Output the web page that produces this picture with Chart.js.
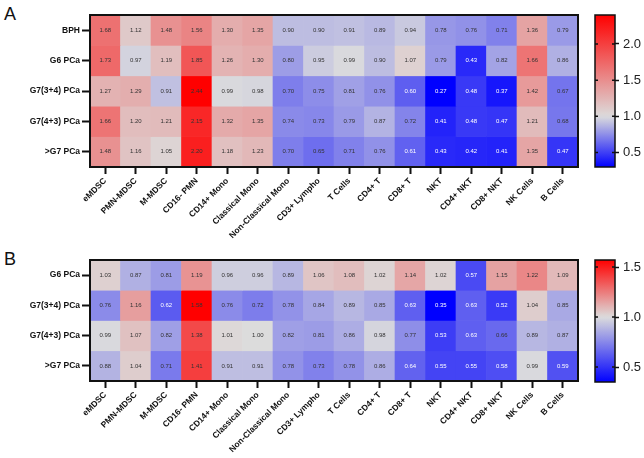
<!DOCTYPE html>
<html>
<head>
<meta charset="utf-8">
<script src="https://cdn.jsdelivr.net/npm/chart.js@4.4.1/dist/chart.umd.min.js"></script>
<style>
  html, body { margin: 0; padding: 0; background: #fff; }
  body { width: 644px; height: 458px; position: relative; overflow: hidden; font-family: "Liberation Sans", Arial, sans-serif; }
  canvas { position: absolute; }
  .letra { position: absolute; left: 4px; font-size: 18px; line-height: 18px; color: #111; }
</style>
</head>
<body>
<div class="letra" style="top:5px">A</div>
<div class="letra" style="top:250px">B</div>
<canvas id="heatA" width="580" height="245" style="left:0;top:0"></canvas>
<canvas id="barraA" width="64" height="180" style="left:580px;top:0"></canvas>
<canvas id="heatB" width="580" height="213" style="left:0;top:245px"></canvas>
<canvas id="barraB" width="64" height="150" style="left:580px;top:245px"></canvas>
<script>
// columnas (tipos celulares) compartidas por los dos paneles
const celulas = ['eMDSC', 'PMN-MDSC', 'M-MDSC', 'CD16- PMN', 'CD14+ Mono', 'Classical Mono',
  'Non-Classical Mono', 'CD3+ Lympho', 'T Cells', 'CD4+ T', 'CD8+ T', 'NKT', 'CD4+ NKT',
  'CD8+ NKT', 'NK Cells', 'B Cells'];

// Panel A
const gruposA = ['BPH', 'G6 PCa', 'G7(3+4) PCa', 'G7(4+3) PCa', '>G7 PCa'];
const bphA   = [1.68, 1.12, 1.48, 1.56, 1.30, 1.35, 0.90, 0.90, 0.91, 0.89, 0.94, 0.78, 0.76, 0.71, 1.36, 0.79];
const g6A    = [1.73, 0.97, 1.19, 1.85, 1.26, 1.30, 0.80, 0.95, 0.99, 0.90, 1.07, 0.79, 0.43, 0.82, 1.66, 0.86];
const g734A  = [1.27, 1.29, 0.91, 2.44, 0.99, 0.98, 0.70, 0.75, 0.81, 0.76, 0.60, 0.27, 0.48, 0.37, 1.42, 0.67];
const g743A  = [1.66, 1.20, 1.21, 2.15, 1.32, 1.35, 0.74, 0.73, 0.79, 0.87, 0.72, 0.41, 0.48, 0.47, 1.21, 0.68];
const mayorA = [1.48, 1.16, 1.05, 2.20, 1.18, 1.23, 0.70, 0.65, 0.71, 0.76, 0.61, 0.43, 0.42, 0.41, 1.35, 0.47];
const escalaA = [0.3, 2.4];
const ticksA = [0.5, 1.0, 1.5, 2.0];

// Panel B
const gruposB = ['G6 PCa', 'G7(3+4) PCa', 'G7(4+3) PCa', '>G7 PCa'];
const g6B    = [1.03, 0.87, 0.81, 1.19, 0.96, 0.96, 0.89, 1.06, 1.08, 1.02, 1.14, 1.02, 0.57, 1.15, 1.22, 1.09];
const g734B  = [0.76, 1.16, 0.62, 1.58, 0.76, 0.72, 0.78, 0.84, 0.89, 0.85, 0.63, 0.35, 0.63, 0.52, 1.04, 0.85];
const g743B  = [0.99, 1.07, 0.82, 1.38, 1.01, 1.00, 0.82, 0.81, 0.86, 0.98, 0.77, 0.53, 0.63, 0.66, 0.89, 0.87];
const mayorB = [0.88, 1.04, 0.71, 1.41, 0.91, 0.91, 0.78, 0.73, 0.78, 0.86, 0.64, 0.55, 0.55, 0.58, 0.99, 0.59];
const escalaB = [0.35, 1.57];
const ticksB = [0.5, 1.0, 1.5];

const AZUL = [0, 0, 255], GRIS = [220, 220, 220], ROJO = [255, 0, 0];
const FUENTE = '"Liberation Sans", Arial, sans-serif';

function mezclar(a, b, t) {
  t = Math.max(0, Math.min(1, t));
  return a.map((c, i) => Math.round(c + (b[i] - c) * t));
}
function colorDe(v, [lo, hi]) {
  const c = v <= 1 ? mezclar(AZUL, GRIS, (v - lo) / (1 - lo)) : mezclar(GRIS, ROJO, (v - 1) / (hi - 1));
  return `rgb(${c[0]},${c[1]},${c[2]})`;
}
function textoDe(v, [lo]) {
  return (v < 1 && (v - lo) / (1 - lo) < 0.45) ? '#ffffff' : '#333333';
}

function dibujarMarco(chart) {
  const a = chart.chartArea;
  const ctx = chart.ctx;
  ctx.save();
  ctx.strokeStyle = '#111';
  ctx.lineWidth = chart.options.plugins.marco.grosor;
  ctx.strokeRect(a.left, a.top, a.right - a.left, a.bottom - a.top);
  ctx.restore();
}

const valores = {
  id: 'valores',
  afterDatasetsDraw(chart) {
    const ctx = chart.ctx;
    const escala = chart.options.plugins.valores.escala;
    ctx.save();
    ctx.font = '6px ' + FUENTE;
    ctx.textAlign = 'center';
    ctx.textBaseline = 'middle';
    chart.data.datasets.forEach((ds, i) => {
      chart.getDatasetMeta(i).data.forEach((bar, j) => {
        const v = ds.valores[j];
        ctx.fillStyle = textoDe(v, escala);
        ctx.fillText(v.toFixed(2), bar.x, (bar.y + bar.base) / 2);
      });
    });
    ctx.restore();
  }
};
const marco = { id: 'marco', afterDraw: dibujarMarco };

// marcas cortas hacia adentro de la barra de color, en cada tick
const marcasInternas = {
  id: 'marcasInternas',
  afterDraw(chart) {
    const a = chart.chartArea;
    const ctx = chart.ctx;
    ctx.save();
    ctx.strokeStyle = '#111';
    ctx.lineWidth = 1.5;
    chart.scales.y.ticks.forEach(t => {
      const y = chart.scales.y.getPixelForValue(t.value);
      ctx.beginPath();
      ctx.moveTo(a.left, y); ctx.lineTo(a.left + 3, y);
      ctx.moveTo(a.right - 3, y); ctx.lineTo(a.right, y);
      ctx.stroke();
    });
    ctx.restore();
  }
};

function heatmap(id, grupos, filas, escala, altoEje) {
  return new Chart(document.getElementById(id), {
    type: 'bar',
    data: {
      labels: celulas,
      datasets: filas.map((fila, i) => ({
        label: grupos[i],
        valores: fila,
        data: fila.map(() => [i - 0.5, i + 0.5]),
        backgroundColor: fila.map(v => colorDe(v, escala)),
        borderWidth: 0,
        barPercentage: 1,
        categoryPercentage: 1,
        grouped: false
      }))
    },
    options: {
      responsive: false,
      animation: false,
      layout: { padding: { top: 15, right: 2, left: 0, bottom: 0 } },
      plugins: {
        legend: { display: false },
        tooltip: { enabled: false },
        valores: { escala },
        marco: { grosor: 2 }
      },
      scales: {
        x: {
          grid: { offset: false, drawOnChartArea: false, tickLength: 7, tickWidth: 2, tickColor: '#111' },
          border: { display: false },
          ticks: { minRotation: 45, maxRotation: 45, autoSkip: false, padding: 2, color: '#111',
            font: { family: FUENTE, size: 8.5, weight: 'bold' } },
          afterFit: s => { s.height = altoEje; }
        },
        y: {
          reverse: true,
          min: -0.5,
          max: grupos.length - 0.5,
          afterBuildTicks: s => { s.ticks = grupos.map((_, i) => ({ value: i })); },
          grid: { drawOnChartArea: false, tickLength: 8, tickWidth: 2, tickColor: '#111' },
          border: { display: false },
          ticks: { padding: 2, color: '#111', callback: v => grupos[v],
            font: { family: FUENTE, size: 8.5, weight: 'bold' } },
          afterFit: s => { s.width = 90; }
        }
      }
    },
    plugins: [valores, marco]
  });
}

function barraColor(id, escala, marcas) {
  const [lo, hi] = escala;
  return new Chart(document.getElementById(id), {
    type: 'bar',
    data: {
      labels: [''],
      datasets: [{
        data: [[lo, hi]],
        borderWidth: 0,
        barPercentage: 1,
        categoryPercentage: 1,
        backgroundColor: ctx => {
          const y = ctx.chart.scales.y;
          if (!y) return '#ccc';
          const y0 = y.getPixelForValue(lo), y1 = y.getPixelForValue(hi);
          if (!isFinite(y0) || !isFinite(y1) || y0 === y1) return '#ccc';
          const g = ctx.chart.ctx.createLinearGradient(0, y0, 0, y1);
          for (let k = 0; k <= 40; k++) {
            const v = lo + (hi - lo) * k / 40;
            g.addColorStop(k / 40, colorDe(v, escala));
          }
          return g;
        }
      }]
    },
    options: {
      responsive: false,
      animation: false,
      layout: { padding: { top: 15, left: 15, right: 0, bottom: 13 } },
      plugins: {
        legend: { display: false },
        tooltip: { enabled: false },
        marco: { grosor: 1.5 }
      },
      scales: {
        x: { display: false },
        y: {
          position: 'right',
          min: lo,
          max: hi,
          afterBuildTicks: s => { s.ticks = marcas.map(v => ({ value: v })); },
          grid: { drawOnChartArea: false, tickLength: 4, tickWidth: 1.5, tickColor: '#111' },
          border: { display: false },
          ticks: { padding: 4, color: '#222', callback: v => v.toFixed(1),
            font: { family: FUENTE, size: 13 } },
          afterFit: s => { s.width = 29; }
        }
      }
    },
    plugins: [marco, marcasInternas]
  });
}

heatmap('heatA', gruposA, [bphA, g6A, g734A, g743A, mayorA], escalaA, 78);
heatmap('heatB', gruposB, [g6B, g734B, g743B, mayorB], escalaB, 77);
const barA = barraColor('barraA', escalaA, ticksA);
const barB = barraColor('barraB', escalaB, ticksB);
// el degradado depende de la escala ya calculada: segundo update
barA.update();
barB.update();
</script>
</body>
</html>
